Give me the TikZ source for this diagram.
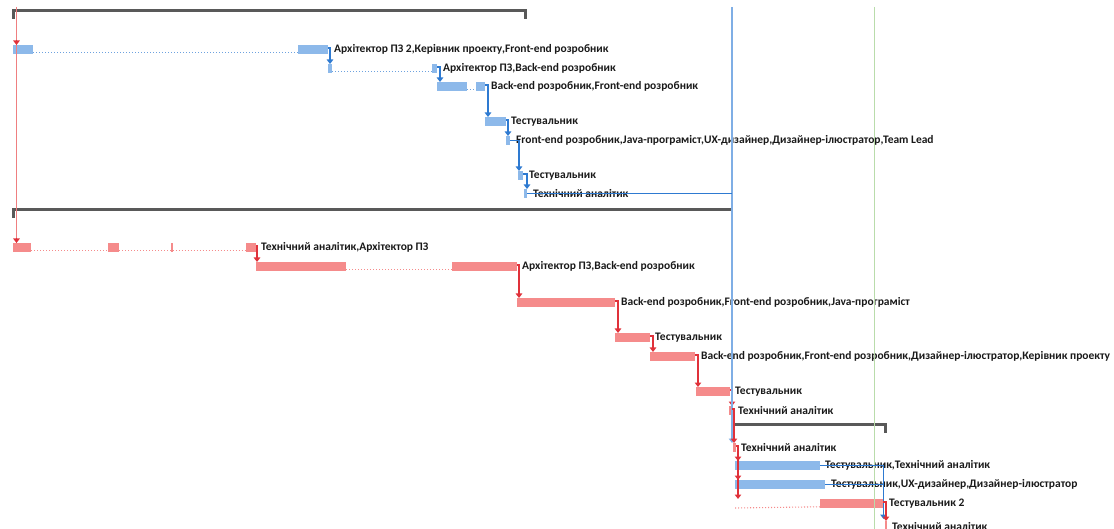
\documentclass[tikz,border=0pt]{standalone}
\usepackage{fontspec}
\setmainfont{Carlito}
\usetikzlibrary{arrows.meta}

\definecolor{barblue}{HTML}{8DB9EA}
\definecolor{linkblue}{HTML}{2E7AD1}
\definecolor{barred}{HTML}{F58B8B}
\definecolor{linkred}{HTML}{E0313A}
\definecolor{markred}{HTML}{EF7F80}
\definecolor{markblue}{HTML}{7FAEE5}
\definecolor{markgreen}{HTML}{B9DCAB}
\definecolor{summgray}{HTML}{595959}

\tikzset{
  barbase/.style={draw=none, inner sep=0pt, outer sep=0pt, minimum height=9pt, anchor=north west},
  bluebar/.style={barbase, fill=barblue},
  redbar/.style={barbase, fill=barred},
  lbl/.style={anchor=west, inner sep=0pt, font=\fontsize{11.5}{13}\selectfont\bfseries, text=black!90},
  tip/.style={-{Triangle[width=6.5pt,length=4.5pt]}},
  blink/.style={draw=linkblue, line width=1.2pt, tip},
  bline/.style={draw=linkblue, line width=1.2pt},
  rlink/.style={draw=linkred, line width=1.2pt, tip},
  bdots/.style={draw=linkblue!70, line width=1.1pt, dash pattern=on 1.1pt off 1.9pt},
  rdots/.style={draw=barred, line width=1.1pt, dash pattern=on 1.1pt off 1.9pt},
  summ/.style={draw=summgray, line width=2.6pt},
}

% task bar: style, name, left x, right x, top y
\newcommand\taskbar[5]{\node[#1, minimum width=#4-#3] (#2) at (#3,#5) {};}

\begin{document}
\begin{tikzpicture}[x=1pt,y=-1pt]
\useasboundingbox (0,0) rectangle (1114,529);
\clip (0,0) rectangle (1114,529);

% ---- summary brackets ----
\draw[summ] (13.3,19) -- (13.3,10.5) -- (525.7,10.5) -- (525.7,19);
\draw[summ] (13.3,218) -- (13.3,209.5) -- (731,209.5);
\draw[summ] (732.3,433) -- (732.3,424.5) -- (885.7,424.5) -- (885.7,433);

% ---- first group (blue) ----
\taskbar{bluebar}{b1a}{13}{33}{45}
\taskbar{bluebar}{b1b}{298}{328}{45}
\taskbar{bluebar}{b2a}{328}{332}{64}
\taskbar{bluebar}{b2b}{432}{437}{64}
\taskbar{bluebar}{b3a}{437}{467}{82}
\taskbar{bluebar}{b3b}{476}{485}{82}
\taskbar{bluebar}{b4}{485}{506}{117}
\taskbar{bluebar}{b5}{506}{510}{136}
\taskbar{bluebar}{b6}{518}{523}{171}
\taskbar{bluebar}{b7}{524}{527}{189}

\draw[bdots] ([yshift=1.2pt]b1a.south east) -- ([yshift=1.2pt]b1b.south west);
\draw[bdots] ([yshift=1.2pt]b2a.south east) -- ([yshift=1.2pt]b2b.south west);
\draw[bdots] ([yshift=1.2pt]b3a.south east) -- ([yshift=1.2pt]b3b.south west);

\node[lbl] (lb1) at ([xshift=6pt]b1b.east) {Архітектор ПЗ 2,Керівник проекту,Front-end розробник};
\node[lbl] (lb2) at ([xshift=6pt]b2b.east) {Архітектор ПЗ,Back-end розробник};
\node[lbl] (lb3) at ([xshift=6pt]b3b.east) {Back-end розробник,Front-end розробник};
\node[lbl] (lb4) at ([xshift=5pt]b4.east) {Тестувальник};
\node[lbl] (lb5) at ([xshift=6pt]b5.east) {Front-end розробник,Java-програміст,UX-дизайнер,Дизайнер-ілюстратор,Team Lead};
\node[lbl] (lb6) at ([xshift=6pt]b6.east) {Тестувальник};
\node[lbl] (lb7) at ([xshift=6pt]b7.east) {Технічний аналітик};

\draw[blink] ([yshift=1.5pt]b1b.east) -| ([xshift=2pt]b2a.north west);
\draw[blink] ([yshift=1.5pt]b2b.east) -| ([xshift=3pt]b3a.north west);
\draw[blink] ([yshift=1.5pt]b3b.east) -| ([xshift=3pt]b4.north west);
\draw[blink] ([yshift=1.5pt]b4.east) -| ([xshift=2pt]b5.north west);
\draw[blink] (b5.east) -| ([xshift=1pt]b6.north west);
\draw[blink] ([yshift=1.5pt]b6.east) -| ([xshift=3pt]b7.north west);

% ---- second group (red) ----
\taskbar{redbar}{r1a}{13}{31}{243}
\taskbar{redbar}{r1b}{108}{119}{243}
\taskbar{redbar}{r1c}{171}{172.5}{243}
\taskbar{redbar}{r1d}{246}{256}{243}
\taskbar{redbar}{r2a}{256}{346}{262}
\taskbar{redbar}{r2b}{452}{517}{262}
\taskbar{redbar}{r3}{517}{615}{298}
\taskbar{redbar}{r4}{615}{650}{333}
\taskbar{redbar}{r5}{650}{695}{352}
\taskbar{redbar}{r6}{696}{730}{387}
\taskbar{redbar}{r7}{729}{732}{406}

\draw[rdots] ([yshift=1.2pt]r1a.south east) -- ([yshift=1.2pt]r1b.south west);
\draw[rdots] ([yshift=1.2pt]r1b.south east) -- ([yshift=1.2pt]r1c.south west);
\draw[rdots] ([yshift=1.2pt]r1c.south east) -- ([yshift=1.2pt]r1d.south west);
\draw[rdots] ([yshift=1.2pt]r2a.south east) -- ([yshift=1.2pt]r2b.south west);

\node[lbl] (lr1) at ([xshift=5pt]r1d.east) {Технічний аналітик,Архітектор ПЗ};
\node[lbl] (lr2) at ([xshift=5pt]r2b.east) {Архітектор ПЗ,Back-end розробник};
\node[lbl] (lr3) at ([xshift=6pt]r3.east) {Back-end розробник,Front-end розробник,Java-програміст};
\node[lbl] (lr4) at ([xshift=5pt]r4.east) {Тестувальник};
\node[lbl] (lr5) at ([xshift=6pt]r5.east) {Back-end розробник,Front-end розробник,Дизайнер-ілюстратор,Керівник проекту};
\node[lbl] (lr6) at ([xshift=5pt]r6.east) {Тестувальник};
\node[lbl] (lr7) at ([xshift=6pt]r7.east) {Технічний аналітик};

\draw[rlink] ([yshift=1.5pt]r1d.east) -| ([xshift=1pt]r2a.north west);
\draw[rlink] ([yshift=1.5pt]r2b.east) -| ([xshift=2pt]r3.north west);
\draw[rlink] ([yshift=1.5pt]r3.east) -| ([xshift=3pt]r4.north west);
\draw[rlink] ([yshift=1.5pt]r4.east) -| ([xshift=3pt]r5.north west);
\draw[rlink] ([yshift=1.5pt]r5.east) -| ([xshift=2pt]r6.north west);
\draw[rlink] ([yshift=1.5pt]r6.east) -| ([xshift=3pt]r7.north west);

% ---- third group ----
\taskbar{redbar}{u1}{733}{736}{443}
\taskbar{bluebar}{u2}{735}{820}{461}
\taskbar{bluebar}{u3}{735}{825}{480}
\coordinate (u4s) at (735,508);
\taskbar{redbar}{u4}{820}{883}{499}
\taskbar{redbar}{u5}{885}{887}{521}

\draw[rdots] (u4s) -- ([yshift=1.2pt]u4.south west);

\node[lbl] (lu1) at ([xshift=5pt]u1.east) {Технічний аналітик};
\node[lbl] (lu2) at ([xshift=5pt]u2.east) {Тестувальник,Технічний аналітик};
\node[lbl] (lu3) at ([xshift=6pt]u3.east) {Тестувальник,UX-дизайнер,Дизайнер-ілюстратор};
\node[lbl] (lu4) at ([xshift=6pt]u4.east) {Тестувальник 2};
\node[lbl] (lu5) at ([xshift=5pt,yshift=-1pt]u5.east) {Технічний аналітик};

% ---- date markers ----
\coordinate (redtop) at (16.5,7);
\coordinate (bluetop) at (732,7);
\draw[markgreen, line width=1.8pt] (874.5,7) -- (874.5,529);
\draw[draw=markblue, line width=1.4pt, tip] (bluetop) -- (bluetop |- u1.north);
\draw[bline] (b7.east) -- (b7.east -| bluetop);
\draw[draw=markred, line width=1.8pt] (redtop) -- (redtop |- r1a.north);
\draw[rlink] ([yshift=5pt]redtop |- b1a.north) -- (redtop |- b1a.north);
\draw[rlink] ([yshift=5pt]redtop |- r1a.north) -- (redtop |- r1a.north);

\draw[rlink] ([yshift=1.5pt]r7.east) -| ([xshift=1pt]u1.north west);
\draw[rlink] ([yshift=1.5pt]u1.east) -| ([xshift=3pt]u2.north west);
\draw[rlink] ([yshift=1.5pt]u1.east) -| ([xshift=3pt]u3.north west);
\draw[rlink] ([yshift=1.5pt]u1.east) -| ([xshift=3pt]u4s |- u4.north);
\coordinate (u5x) at ([xshift=-1.5pt]u5.north west);
\draw[blink] (u2.east) -| ([yshift=2pt]u5x);
\draw[bline] (u3.east) -- (u3.east -| u5x);
\draw[rlink] ([yshift=1.5pt]u4.east) -| ([xshift=1pt]u5.north west);
\end{tikzpicture}
\end{document}
